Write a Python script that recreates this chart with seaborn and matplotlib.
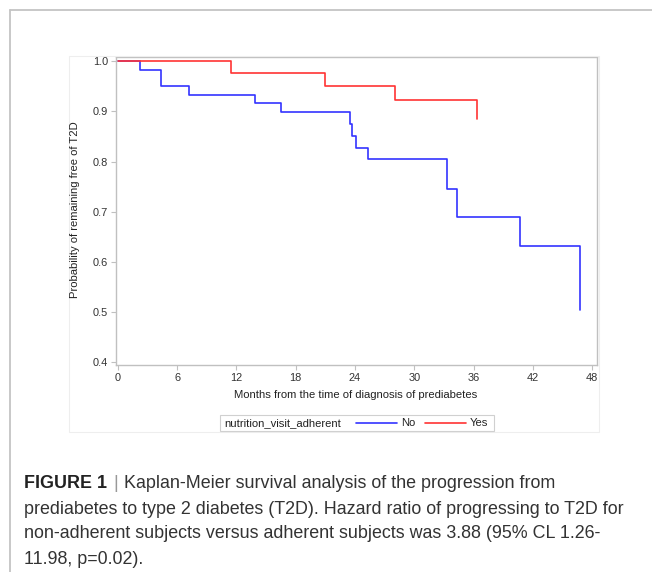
import numpy as np
import pandas as pd
import matplotlib
matplotlib.use("Agg")
import matplotlib.pyplot as plt
from matplotlib.lines import Line2D
from matplotlib.patches import Rectangle
import seaborn as sns

# ---- data ----
no_months = [0, 2.2, 4.4, 7.2, 13.9, 16.5, 23.5, 23.7, 24.1, 25.3, 33.3, 34.3, 40.7, 46.8]
no_surv = [1.0, 0.983, 0.950, 0.932, 0.916, 0.899, 0.874, 0.850, 0.826, 0.805, 0.745, 0.689, 0.631, 0.505]
yes_months = [0, 11.4, 20.95, 28.0, 36.3]
yes_surv = [1.0, 0.977, 0.950, 0.922, 0.885]
groups = ["No", "Yes"]
colors = {"No": "#3333ff", "Yes": "#ff3333"}
x_ticks = [0, 6, 12, 18, 24, 30, 36, 42, 48]
y_ticks = [0.4, 0.5, 0.6, 0.7, 0.8, 0.9, 1.0]

df = pd.concat([
    pd.DataFrame({"month": no_months, "surv": no_surv, "group": "No"}),
    pd.DataFrame({"month": yes_months, "surv": yes_surv, "group": "Yes"}),
], ignore_index=True)

sns.set_theme(style="white")
plt.rcParams["font.family"] = ["Liberation Sans", "DejaVu Sans"]

W, H = 652, 572
fig = plt.figure(figsize=(W / 100, H / 100), dpi=100)
fig.patch.set_facecolor("white")

def fx(px):
    return px / W

def fy(py):
    return 1 - py / H

ax_l, ax_r, ax_t, ax_b = 116, 597, 57, 365
ax = fig.add_axes([fx(ax_l), fy(ax_b), fx(ax_r - ax_l), (ax_b - ax_t) / H])

sns.lineplot(data=df, x="month", y="surv", hue="group", hue_order=groups,
             palette=colors, estimator=None, sort=False, drawstyle="steps-post",
             linewidth=1.2, legend=False, ax=ax)

ax.set_xlim(-0.2, 48.5)
ax.set_ylim(0.395, 1.008)
ax.set_xticks(x_ticks)
ax.set_xticklabels([str(t) for t in x_ticks])
ax.set_yticks(y_ticks)
ax.set_yticklabels([f"{t:.1f}" for t in y_ticks])
spine_c = "#c0c0c0"
for s in ax.spines.values():
    s.set_color(spine_c)
    s.set_linewidth(1.0)
    s.set_visible(True)
ax.tick_params(axis="both", which="both", direction="out", length=3.5, width=0.8,
               color=spine_c, labelsize=7.9, labelcolor="#333333", pad=2, bottom=True, left=True)
ax.set_xlabel("")
ax.set_ylabel("")

lab_fs = 8.1
fig.text(fx(356), fy(395), "Months from the time of diagnosis of prediabetes",
         ha="center", va="center", fontsize=lab_fs, color="#222222")
fig.text(fx(75), fy(210), "Probability of remaining free of T2D", rotation=90,
         ha="center", va="center", fontsize=lab_fs, color="#222222")

# faint outer SAS graph box
fig.add_artist(Rectangle((fx(69), fy(432)), fx(599 - 69), (432 - 56) / H,
                         transform=fig.transFigure, fill=False, edgecolor="#eeeeee", linewidth=0.8))

# legend box
fig.add_artist(Rectangle((fx(220), fy(431)), fx(494 - 220), (431 - 415) / H,
                         transform=fig.transFigure, fill=False, edgecolor="#d0d0d0", linewidth=0.8))
ly = fy(423)
fig.text(fx(224), ly, "nutrition_visit_adherent", ha="left", va="center", fontsize=lab_fs, color="#222222")
fig.add_artist(Line2D([fx(356), fx(397)], [ly, ly], transform=fig.transFigure, color=colors["No"], linewidth=1.2))
fig.text(fx(401), ly, "No", ha="left", va="center", fontsize=lab_fs, color="#222222")
fig.add_artist(Line2D([fx(425), fx(466)], [ly, ly], transform=fig.transFigure, color=colors["Yes"], linewidth=1.2))
fig.text(fx(470), ly, "Yes", ha="left", va="center", fontsize=lab_fs, color="#222222")

# page frame lines
fig.add_artist(Line2D([fx(10), fx(652)], [fy(10), fy(10)], transform=fig.transFigure, color="#c4c4c4", linewidth=1.3))
fig.add_artist(Line2D([fx(10), fx(10)], [fy(10), fy(572)], transform=fig.transFigure, color="#c4c4c4", linewidth=1.3))

# caption
cap_fs = 12.9
cap_c = "#333333"
renderer = fig.canvas.get_renderer()
t1 = fig.text(fx(24), fy(484), "FIGURE 1", ha="left", va="center", fontsize=cap_fs,
              fontweight="bold", color="#222222")
bb = t1.get_window_extent(renderer)
t2 = fig.text(bb.x1 / W + fx(6), fy(484), "|", ha="left", va="center", fontsize=cap_fs,
              color="#999999")
bb2 = t2.get_window_extent(renderer)
fig.text(bb2.x1 / W + fx(6), fy(484), "Kaplan-Meier survival analysis of the progression from",
         ha="left", va="center", fontsize=cap_fs, color=cap_c)
lines = [
    "prediabetes to type 2 diabetes (T2D). Hazard ratio of progressing to T2D for",
    "non-adherent subjects versus adherent subjects was 3.88 (95% CL 1.26-",
    "11.98, p=0.02).",
]
for i, ln in enumerate(lines):
    fig.text(fx(24), fy(509 + 25 * i), ln, ha="left", va="center", fontsize=cap_fs, color=cap_c)

fig.savefig("out.png", dpi=100)
